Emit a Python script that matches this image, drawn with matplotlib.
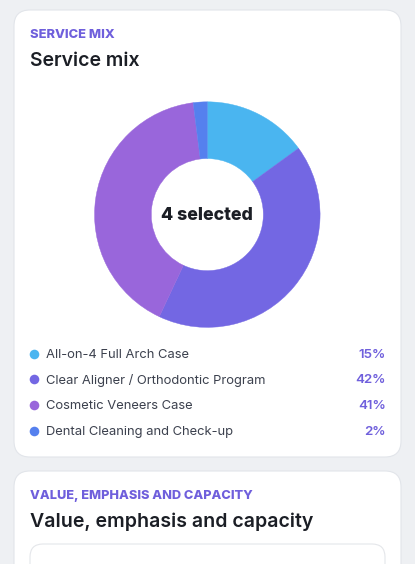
import matplotlib
matplotlib.use("Agg")
import matplotlib.pyplot as plt
from matplotlib.patches import FancyBboxPatch

# === Data ===
services = [
    "All-on-4 Full Arch Case",
    "Clear Aligner / Orthodontic Program",
    "Cosmetic Veneers Case",
    "Dental Cleaning and Check-up",
]
shares = [15, 42, 41, 2]
colors = ["#4AB5F0", "#7367E3", "#9966DB", "#5580EE"]

W, H = 415, 564
ACCENT = "#6F5FDC"
DARK = "#1B1E25"
plt.rcParams["font.family"] = ["Inter", "DejaVu Sans"]

fig = plt.figure(figsize=(W / 100, H / 100), dpi=100, facecolor="#EEF0F3")

# overlay in pixel coordinates, y going down
page = fig.add_axes([0, 0, 1, 1])
page.set_xlim(0, W)
page.set_ylim(H, 0)
page.axis("off")


def card(x0, y0, x1, y1, r, edge="#E2E5EA"):
    box = FancyBboxPatch((x0 + r, y0 + r), x1 - x0 - 2 * r, y1 - y0 - 2 * r,
                         boxstyle=f"round,pad={r},rounding_size={r}",
                         fc="white", ec=edge, lw=0.8)
    page.add_patch(box)


card(14, 10, 401, 457, 16)
card(14, 471, 401, 600, 16)
card(30, 544, 385, 640, 13, edge="#E4E6EA")

page.text(29.5, 35, "SERVICE MIX", color=ACCENT, fontsize=9.3, fontweight="heavy", va="center")
page.text(29.5, 61, "Service mix", color=DARK, fontsize=14, fontweight="semibold", va="center")
page.text(29.5, 496, "VALUE, EMPHASIS AND CAPACITY", color=ACCENT, fontsize=9.2, fontweight="heavy", va="center")
page.text(29.5, 522, "Value, emphasis and capacity", color=DARK, fontsize=14.05, fontweight="semibold", va="center")

# === Donut ===
cx, cy, radius = 207.3, 214.6, 113
donut = fig.add_axes([(cx - radius) / W, 1 - (cy + radius) / H, 2 * radius / W, 2 * radius / H])
wedges, _ = donut.pie(shares, colors=colors, startangle=90, counterclock=False, radius=1,
                      wedgeprops={"width": 0.503, "linewidth": 0.3})
# edge in the wedge's own colour, closes the hairline seams
for wedge, color in zip(wedges, colors):
    wedge.set_edgecolor(color)
donut.set_xlim(-1.002, 1.002)
donut.set_ylim(-1.002, 1.002)
donut.text(0, -0.012, "4 selected", color=DARK, fontsize=12.8, fontweight="heavy", ha="center", va="center")

# === Legend rows ===
row_y = [354, 379.5, 405.5, 431]
for name, share, color, y in zip(services, shares, colors, row_y):
    page.scatter([34], [y - 0.3], s=48, color=color, linewidths=0)
    page.text(46, y + 0.8, name, color="#3C414E", fontsize=9.35, va="center")
    page.text(385.5, y + 0.8, f"{share}%", color=ACCENT, fontsize=9.6, fontweight="semibold", ha="right", va="center")

fig.savefig("out.png", dpi=100, facecolor=fig.get_facecolor())
